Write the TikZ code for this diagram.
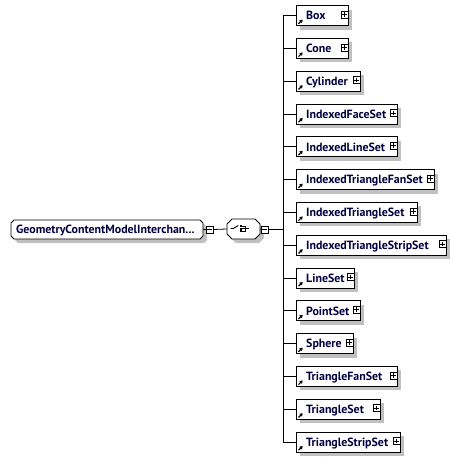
\documentclass[tikz,border=0pt]{standalone}
\usepackage{fontspec}
\setmainfont{PT Sans}
\usetikzlibrary{arrows.meta,calc}
\definecolor{txt}{RGB}{0,0,64}
\definecolor{shd}{RGB}{192,192,192}
\newcommand\octpath[5]{({#1+#5},#2) -- ({#3-#5},#2) -- (#3,{#2+#5}) -- (#3,{#4-#5}) -- ({#3-#5},#4) -- ({#1+#5},#4) -- (#1,{#4-#5}) -- (#1,{#2+#5}) -- cycle}
\newcommand\lblfont{\bfseries\fontsize{11.9}{13}\selectfont}
\tikzset{
 elem/.style={draw=black, line width=0.8pt, fill=white, rectangle, minimum height=20pt, inner sep=0pt, anchor=west},
 lbl/.style={font=\lblfont, text=txt, anchor=base west, inner sep=0pt},
 pbox/.style={draw=black, line width=0.6pt, fill=white, minimum size=7pt, inner sep=0pt, rectangle},
 conn/.style={line width=0.8pt, black},
 outl/.style={draw=black, line width=0.8pt, fill=white},
 shad/.style={fill=shd},
}
\begin{document}
\begin{tikzpicture}[x=1pt,y=-1pt]
\useasboundingbox (0,0) rectangle (456,464);
% root element
\fill[shad] \octpath{15}{224}{207}{243}{3};
\path[outl] \octpath{11}{220}{203}{239}{3};
\node[inner sep=0pt, minimum width=192pt, minimum height=19pt, text=txt] (root) at (107,229.5) {};
\node[lbl] (rt) at (16,233.9) {GeometryContentModelInterchan...};
\node[pbox] (m1) at (209.5,229.5) {};
\draw[line width=0.6pt] ($(m1.center)+(-2.3,0)$) -- ($(m1.center)+(2.3,0)$);
% choice compositor
\fill[shad] \octpath{231}{223}{264}{243}{5};
\path[outl] \octpath{227}{219}{260}{239}{5};
\node[inner sep=0pt, minimum width=33pt, minimum height=20pt] (ch) at (243.5,229) {};
\node[pbox] (m2) at (264.5,229.5) {};
\draw[line width=0.6pt] ($(m2.center)+(-2.3,0)$) -- ($(m2.center)+(2.3,0)$);
\coordinate (sp) at (283,229.5);
\draw[conn] (root.east) -- (m1.west);
\draw[conn] (m1.east) -- (ch.west);
\draw[conn] (ch.east) -- (m2.west);
\draw[conn] (m2.east) -- (sp);
% choice symbol
\draw[line width=0.9pt] (230.7,228.5) -- (233.3,228.5) -- (238.3,225.5);
\foreach \yy in {226,228.5,231} {
  \fill (239.6,\yy-1) rectangle (241.6,\yy+1);
  \draw[line width=0.8pt] (242.3,\yy) -- (245.7,\yy);
}
\draw[line width=0.8pt] (245.7,225.6) -- (245.7,231.4);
\draw[line width=0.8pt] (245.7,228.5) -- (248.5,228.5);
% children
\foreach \n/\w [count=\i from 0] in {Box/52,Cone/52,Cylinder/64,IndexedFaceSet/101,IndexedLineSet/101,IndexedTriangleFanSet/138,IndexedTriangleSet/121,IndexedTriangleStripSet/150,LineSet/58,PointSet/64,Sphere/57,TriangleFanSet/101,TriangleSet/84,TriangleStripSet/104} {
  \pgfmathsetmacro\cy{15.5+32.8*\i}
  \fill[shad] (300,{\cy-6}) rectangle ({300+\w},{\cy+14});
  \node[elem, minimum width=\w pt] (e\i) at (296,\cy) {};
  \node[lbl] (t\i) at ($(e\i.west)+(10,4.4)$) {\n};
  \node[pbox] (p\i) at ($(e\i.east)+(-4.5,-1)$) {};
  \draw[line width=0.6pt] ($(p\i.center)+(-2.3,0)$) -- ($(p\i.center)+(2.3,0)$);
  \draw[line width=0.6pt] ($(p\i.center)+(0,-2.3)$) -- ($(p\i.center)+(0,2.3)$);
  \draw[line width=1.2pt, -{Triangle[length=3pt,width=3.6pt]}] ($(e\i.west)+(2.5,8.3)$) -- ($(e\i.west)+(6.7,4.1)$);
  \draw[conn] (e\i.west) -- (e\i.west -| sp);
}
\draw[conn] (e0.west -| sp) -- (e13.west -| sp);
\end{tikzpicture}
\end{document}
